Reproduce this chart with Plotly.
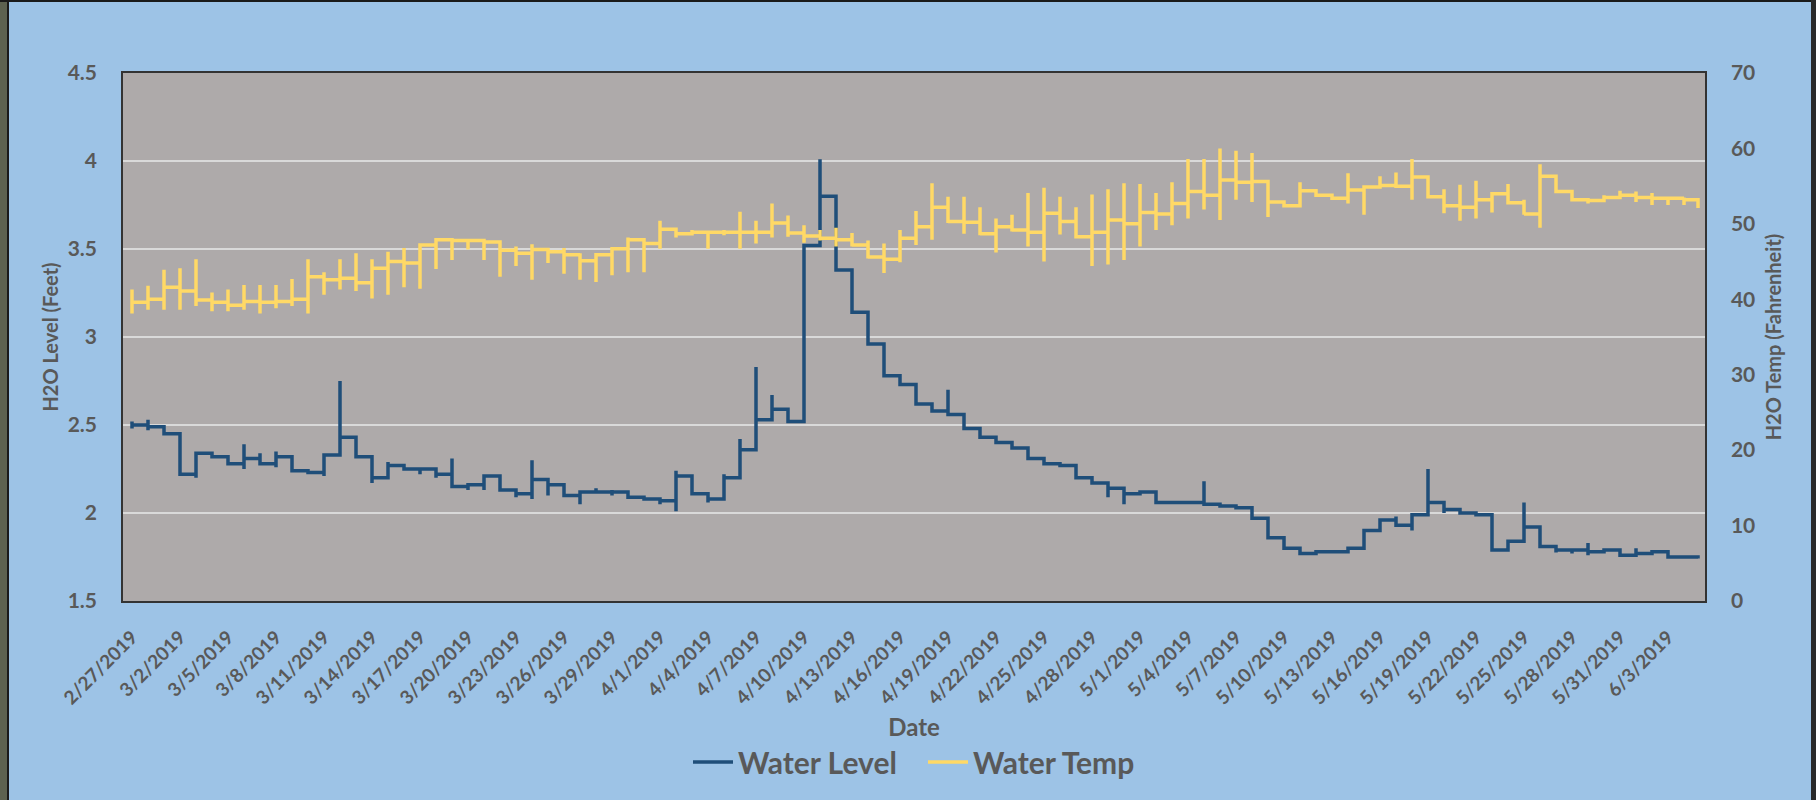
import pandas as pd
import plotly.graph_objects as go

# ---------------- data ----------------
start_date = "2019-02-27"          # first daily reading
last_reading = "2019-06-04 21:00"  # time of the final reading

# Water level (feet): daily value, spike max / min at the start of each day (None = no spike)
level_val = [2.50, 2.49, 2.45, 2.22, 2.34, 2.32, 2.28, 2.31, 2.28, 2.32,
             2.24, 2.23, 2.33, 2.43, 2.32, 2.20, 2.27, 2.25, 2.25, 2.22,
             2.15, 2.16, 2.21, 2.13, 2.11, 2.19, 2.16, 2.10, 2.12, 2.12,
             2.12, 2.09, 2.08, 2.07, 2.21, 2.11, 2.08, 2.20, 2.36, 2.53,
             2.59, 2.52, 3.52, 3.80, 3.38, 3.14, 2.96, 2.78, 2.73, 2.62,
             2.58, 2.56, 2.48, 2.43, 2.40, 2.37, 2.31, 2.28, 2.27, 2.20,
             2.17, 2.14, 2.11, 2.12, 2.06, 2.06, 2.06, 2.05, 2.04, 2.03,
             1.97, 1.86, 1.80, 1.77, 1.78, 1.78, 1.80, 1.90, 1.96, 1.93,
             1.99, 2.06, 2.02, 2.00, 1.99, 1.79, 1.84, 1.92, 1.81, 1.79,
             1.79, 1.78, 1.79, 1.76, 1.77, 1.78, 1.75, 1.75]
level_hi = [2.52, 2.53, None, None, None, None, None, 2.39, 2.34, 2.35,
            None, None, None, 2.75, None, None, 2.29, None, None, None,
            2.31, None, None, None, None, 2.30, None, None, None, 2.14,
            2.13, None, None, None, 2.24, None, None, 2.22, 2.42, 2.83,
            2.67, 2.60, None, 4.01, None, None, None, None, 2.76, None,
            None, 2.70, None, None, None, None, None, None, None, None,
            None, None, None, None, None, None, None, 2.18, None, None,
            None, None, None, None, None, None, None, None, None, 1.98,
            None, 2.25, None, None, None, None, None, 2.06, None, None,
            None, 1.83, None, None, 1.80, None, None, None]
level_lo = [2.48, 2.47, None, None, 2.20, None, None, 2.25, 2.27, 2.26,
            None, 2.22, 2.21, None, None, 2.17, 2.20, 2.24, 2.22, 2.20,
            2.14, 2.13, 2.13, None, 2.09, 2.08, 2.10, None, 2.05, None,
            2.10, None, None, 2.05, 2.01, None, 2.06, None, None, None,
            None, None, None, None, None, None, None, None, None, None,
            None, None, None, None, None, None, None, None, None, None,
            None, 2.09, 2.05, None, None, None, None, None, None, None,
            None, None, None, None, None, None, None, 1.85, None, None,
            1.90, None, 2.00, 1.99, None, 1.78, 1.78, None, None, 1.775,
            1.77, 1.76, None, None, 1.75, None, None, 1.74]
level_last = 1.742

# Water temperature (Fahrenheit)
temp_val = [39.6, 40.0, 41.6, 41.1, 39.9, 39.6, 39.2, 39.7, 39.6, 39.7,
            40.0, 43.0, 42.6, 42.8, 42.2, 44.1, 45.0, 44.8, 47.2, 47.9,
            47.8, 47.8, 47.6, 46.5, 46.1, 46.6, 46.3, 45.9, 45.1, 45.9,
            46.7, 47.9, 47.4, 49.3, 48.7, 48.9, 48.9, 48.9, 48.9, 48.9,
            50.1, 48.8, 48.4, 48.1, 47.9, 47.2, 45.6, 45.3, 48.1, 49.6,
            52.2, 50.3, 50.2, 48.7, 49.6, 49.2, 48.9, 51.4, 50.3, 48.3,
            48.9, 50.5, 50.0, 51.5, 51.3, 52.7, 54.3, 53.8, 55.8, 55.5,
            55.6, 52.9, 52.4, 54.4, 53.8, 53.4, 54.5, 54.9, 55.1, 55.0,
            56.2, 53.6, 52.4, 52.2, 53.2, 54.0, 52.8, 51.3, 56.3, 54.3,
            53.2, 53.1, 53.5, 53.8, 53.5, 53.4, 53.4, 53.2]
temp_hi = [41.3, 41.8, 43.9, 44.1, 45.3, 40.9, 41.3, 41.9, 41.9, 41.9,
           42.7, 45.3, 43.6, 45.3, 46.1, 45.3, 46.3, 46.8, 47.4, None,
           None, None, 47.8, 47.4, 47.0, 47.3, 46.6, 46.8, 46.1, None,
           None, 48.2, 47.6, 50.4, 49.2, 49.2, None, 49.2, 51.6, 50.4,
           52.7, 51.1, 49.8, 49.2, 49.5, 48.8, 47.8, 47.4, 49.2, 51.7,
           55.4, 53.6, 53.6, 52.2, 50.7, 51.2, 54.1, 54.8, 53.6, 52.2,
           53.9, 54.6, 55.4, 55.3, 54.1, 55.5, 58.6, 58.6, 60.0, 59.7,
           59.4, None, None, 55.5, None, None, 56.7, 55.1, 56.3, 56.8,
           58.6, None, 54.6, 55.2, 55.7, None, 55.3, 53.2, 57.9, 54.5,
           54.3, None, 53.8, 54.4, 54.3, 54.1, 53.5, 53.5]
temp_lo = [38.1, 38.6, 38.6, 38.6, 39.1, 38.4, 38.4, 38.6, 38.1, 38.8,
           39.1, 38.1, 40.6, 41.3, 41.1, 40.1, 40.6, 41.6, 41.4, 44.0,
           45.2, 46.6, 45.2, 43.0, 44.4, 42.6, 44.8, 43.4, 42.6, 42.3,
           43.2, 43.6, 43.6, 46.7, 48.2, 48.7, 46.7, 48.5, 46.7, 47.4,
           48.2, 48.3, 47.5, 47.8, 47.0, 47.0, 45.4, 43.5, 44.9, 47.2,
           47.9, 50.1, 48.7, 48.5, 46.2, 49.0, 47.0, 45.0, 48.6, None,
           44.4, 44.6, 45.2, 47.0, 49.2, 49.8, 50.7, 51.9, 50.5, 53.2,
           52.9, 50.9, None, None, None, None, 52.7, 51.2, None, None,
           53.2, None, 51.4, 50.4, 50.7, 51.5, None, 51.2, 49.5, None,
           None, 52.7, None, None, 52.9, 52.5, 52.5, 52.5]
temp_last = 52.1

series_names = ["Water Level", "Water Temp"]
x_title = "Date"
y1_title = "H2O Level (Feet)"
y2_title = "H2O Temp (Fahrenheit)"

# ---------------- build the stepped daily series ----------------
days = pd.date_range(start_date, periods=len(level_val), freq="D")
end_time = pd.Timestamp(last_reading)


def build(vals, his, los, last):
    xs, ys = [], []
    for i, d in enumerate(days):
        v = vals[i]
        hi = his[i] if his[i] is not None else v
        lo = los[i] if los[i] is not None else v
        xs += [d, d, d]
        ys += [hi, lo, v]
        nxt = days[i + 1] if i + 1 < len(days) else end_time
        xs.append(nxt)
        ys.append(v)
    xs.append(end_time)
    ys.append(last)
    return xs, ys


lx, ly = build(level_val, level_hi, level_lo, level_last)
tx, ty = build(temp_val, temp_hi, temp_lo, temp_last)

# ---------------- figure ----------------
W, H = 1816, 800
ML, MR, MT, MB = 123, 111, 73, 199
TXT = "#595959"
FONT = "Lato, 'Open Sans', sans-serif"

fig = go.Figure()
fig.add_trace(go.Scatter(x=lx, y=ly, mode="lines", name=series_names[0],
                         line=dict(color="#1F4E79", width=3.5), yaxis="y"))
fig.add_trace(go.Scatter(x=tx, y=ty, mode="lines", name=series_names[1],
                         line=dict(color="#FFD966", width=3.5), yaxis="y2"))


def pxx(p):
    return (p - ML) / (W - ML - MR)


def pyy(p):
    return (H - MB - p) / (H - MT - MB)


frame_shapes = [
    dict(type="rect", xref="paper", yref="paper", x0=pxx(0), x1=pxx(7), y0=pyy(800), y1=pyy(0),
         fillcolor="#5d6250", line=dict(width=0), layer="above"),
    dict(type="rect", xref="paper", yref="paper", x0=pxx(7), x1=pxx(9), y0=pyy(800), y1=pyy(0),
         fillcolor="#1a1a1a", line=dict(width=0), layer="above"),
    dict(type="rect", xref="paper", yref="paper", x0=pxx(0), x1=pxx(1816), y0=pyy(2), y1=pyy(0),
         fillcolor="#1a1a1a", line=dict(width=0), layer="above"),
    dict(type="rect", xref="paper", yref="paper", x0=pxx(1811), x1=pxx(1816), y0=pyy(800), y1=pyy(0),
         fillcolor="#2a2a2a", line=dict(width=0), layer="above"),
]

fig.update_layout(
    width=W, height=H,
    margin=dict(l=ML, r=MR, t=MT, b=MB, autoexpand=False),
    paper_bgcolor="#9DC3E6",
    plot_bgcolor="#AEAAAA",
    font=dict(family=FONT, color=TXT, size=20, weight="bold"),
    showlegend=True,
    legend=dict(orientation="h", x=pxx(923), xanchor="center", y=pyy(762), yanchor="middle",
                font=dict(size=30, family=FONT, color=TXT, weight="bold"),
                bgcolor="rgba(0,0,0,0)", itemwidth=40, entrywidth=180),
    xaxis=dict(
        type="date",
        range=["2019-02-26 10:30", "2019-06-05 07:30"],
        tick0=start_date, dtick=3 * 86400000, tickformat="%-m/%-d/%Y",
        tickangle=-45,
        ticks="outside", ticklen=16, tickcolor="rgba(0,0,0,0)",
        tickfont=dict(size=19, family=FONT, color=TXT, weight="bold"),
        showgrid=False, zeroline=False,
        showline=True, linecolor="#333333", linewidth=1.5, mirror=True,
        title=dict(text=x_title, standoff=12,
                   font=dict(size=24, family=FONT, color=TXT, weight="bold")),
        automargin=False,
    ),
    yaxis=dict(
        range=[1.5, 4.5], dtick=0.5, tick0=1.5,
        ticks="outside", ticklen=20, tickcolor="rgba(0,0,0,0)",
        tickfont=dict(size=21, family=FONT, color=TXT, weight="bold"),
        showgrid=True, gridcolor="#D9D9D9", gridwidth=1.5, zeroline=False,
        showline=True, linecolor="#333333", linewidth=1.5, mirror=True,
        title=dict(text=y1_title, standoff=4,
                   font=dict(size=20, family=FONT, color=TXT, weight="bold")),
        automargin=False,
    ),
    yaxis2=dict(
        range=[0, 70], dtick=10, tick0=0,
        overlaying="y", side="right",
        ticks="outside", ticklen=20, tickcolor="rgba(0,0,0,0)",
        tickfont=dict(size=21, family=FONT, color=TXT, weight="bold"),
        showgrid=False, zeroline=False,
        showline=True, linecolor="#333333", linewidth=1.5,
        title=dict(text=y2_title, standoff=13,
                   font=dict(size=20, family=FONT, color=TXT, weight="bold")),
        automargin=False,
    ),
    shapes=frame_shapes,
)

fig.write_html("out.html", config={"displayModeBar": False},
               post_script="document.body.style.margin='0';document.body.style.overflow='hidden';")
